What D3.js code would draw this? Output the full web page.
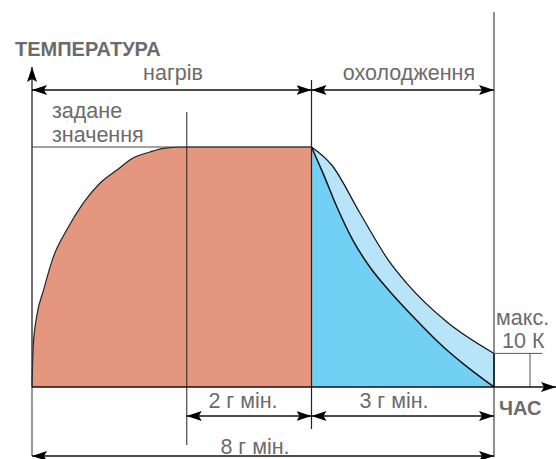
<!DOCTYPE html>
<html>
<head>
<meta charset="utf-8">
<script src="https://cdn.jsdelivr.net/npm/d3@7"></script>
<style>
  html, body { margin: 0; padding: 0; background: #fff; }
  svg text { font-family: "Liberation Sans", Arial, sans-serif; fill: #6b6b6b; }
</style>
</head>
<body>
<svg id="chart" width="556" height="459"></svg>
<script>
// time in "minutes", temperature in % of setpoint
var heatT = [0, 0.02, 0.08, 0.2, 0.37, 0.6, 0.89, 1.18, 1.47, 1.75, 2.04, 2.33, 2.68];
var heatV = [0, 16.7, 29.2, 40.4, 54.2, 65.4, 76.7, 85, 90.4, 95.4, 97.9, 99.6, 100];
var holdEnd = 4.84;
var coolT = [4.84, 5.04, 5.28, 5.56, 5.85, 6.2, 6.6, 7.12, 7.53, 8];
var coolV = [100, 89, 75, 61, 50, 39.7, 29.3, 16.8, 8.5, 0];
var coolMaxT = [4.84, 5.19, 5.68, 6.17, 6.49, 7.18, 8];
var coolMaxV = [100, 92.5, 72.4, 52.9, 43.2, 27.2, 14];
var endT = 8;
var setpoint = 100;

var svg = d3.select('#chart');
var x = d3.scaleLinear().domain([0, 8]).range([32, 494]);
var y = d3.scaleLinear().domain([0, 100]).range([387, 147]);

var defs = svg.append('defs');
defs.append('marker')
    .attr('id', 'arr')
    .attr('markerUnits', 'userSpaceOnUse')
    .attr('markerWidth', 16).attr('markerHeight', 10)
    .attr('refX', 15).attr('refY', 5)
    .attr('orient', 'auto-start-reverse')
    .append('path')
    .attr('d', 'M0,0 L15,5 L0,10 L3,5 Z')
    .attr('fill', '#000');

var heat = heatT.map((t, i) => [t, heatV[i]]);
heat.push([holdEnd, setpoint]);
var cool = coolT.map((t, i) => [t, coolV[i]]);
var coolMax = coolMaxT.map((t, i) => [t, coolMaxV[i]]);

var area = d3.area().x(d => x(d[0])).y0(y(0)).y1(d => y(d[1]));
var line = d3.line().x(d => x(d[0])).y(d => y(d[1]));

// heating area
svg.append('path').datum(heat)
    .attr('d', area.curve(d3.curveMonotoneX))
    .attr('fill', '#e5967e');
svg.append('path').datum(heat)
    .attr('d', line.curve(d3.curveMonotoneX))
    .attr('fill', 'none').attr('stroke', '#222').attr('stroke-width', 1.2);

// cooling areas
svg.append('path').datum(coolMax)
    .attr('d', area.curve(d3.curveMonotoneX))
    .attr('fill', '#b8e4f9');
svg.append('path').datum(cool)
    .attr('d', area.curve(d3.curveMonotoneX))
    .attr('fill', '#73d0f5');
svg.append('path').datum(coolMax)
    .attr('d', line.curve(d3.curveMonotoneX))
    .attr('fill', 'none').attr('stroke', '#111').attr('stroke-width', 1.2);
svg.append('path').datum(cool)
    .attr('d', line.curve(d3.curveMonotoneX))
    .attr('fill', 'none').attr('stroke', '#111').attr('stroke-width', 1.5);

function vline(t, y1, y2, col, w) {
    svg.append('line')
        .attr('x1', x(t)).attr('x2', x(t))
        .attr('y1', y1).attr('y2', y2)
        .attr('stroke', col).attr('stroke-width', w);
}
function hline(x1, x2, yy, col, w) {
    svg.append('line')
        .attr('x1', x1).attr('x2', x2)
        .attr('y1', yy).attr('y2', yy)
        .attr('stroke', col).attr('stroke-width', w);
}

// setpoint line
hline(x(0), x(holdEnd), y(setpoint), '#444', 1);
// guides
vline(heatT[heatT.length - 1], 112, 445, '#222', 1);
vline(holdEnd, 80, 429, '#222', 1.2);
vline(endT, 12, 457, '#444', 1.2);
vline(0, 387, 456, '#555', 1.2);
vline(endT, y(coolMaxV[coolMaxV.length - 1]), y(0), '#111', 1.5);

// 10 K bracket
hline(x(endT), 542, y(coolMaxV[coolMaxV.length - 1]), '#555', 1);
svg.append('line')
    .attr('x1', 530).attr('x2', 530)
    .attr('y1', y(coolMaxV[coolMaxV.length - 1])).attr('y2', y(0))
    .attr('stroke', '#555').attr('stroke-width', 1);

// axes
svg.append('line')
    .attr('x1', x(0)).attr('x2', x(0))
    .attr('y1', y(0)).attr('y2', 67)
    .attr('stroke', '#333').attr('stroke-width', 1.4)
    .attr('marker-end', 'url(#arr)');
svg.append('line')
    .attr('x1', x(0)).attr('x2', 556)
    .attr('y1', y(0)).attr('y2', y(0))
    .attr('stroke', '#111').attr('stroke-width', 1.6)
    .attr('marker-end', 'url(#arr)');

// dimension arrows
function dim(t1, t2, yy) {
    svg.append('line')
        .attr('x1', x(t1)).attr('x2', x(t2))
        .attr('y1', yy).attr('y2', yy)
        .attr('stroke', '#111').attr('stroke-width', 1.4)
        .attr('marker-start', 'url(#arr)')
        .attr('marker-end', 'url(#arr)');
}
dim(0, holdEnd, 90);
dim(holdEnd, endT, 90);
dim(heatT[heatT.length - 1], holdEnd, 416);
dim(holdEnd, endT, 416);
dim(0, endT, 456);

function label(txt, xx, yy, anchor, bold) {
    svg.append('text')
        .attr('x', xx).attr('y', yy)
        .attr('text-anchor', anchor)
        .attr('font-size', bold ? 20 : 21.5)
        .attr('font-weight', bold ? 'bold' : 'normal')
        .text(txt);
}
label('ТЕМПЕРАТУРА', 15, 56, 'start', true);
label('нагрів', 173, 80, 'middle');
label('охолодження', 409, 80, 'middle');
label('задане', 52, 118, 'start');
label('значення', 52, 142, 'start');
label('2 г мін.', 243, 408, 'middle');
label('3 г мін.', 394, 408, 'middle');
label('8 г мін.', 255, 454, 'middle');
label('макс.', 496, 325, 'start');
label('10 К', 502, 348, 'start');
label('ЧАС', 499, 415, 'start', true);
</script>
</body>
</html>
